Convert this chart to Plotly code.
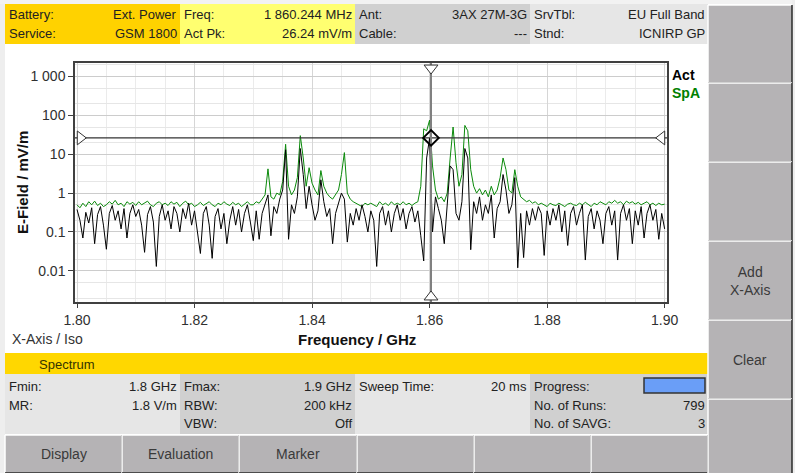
import numpy as np
import plotly.graph_objects as go

# Sweep settings
f_min, f_max = 1.80, 1.90          # GHz
marker_freq = 1.860244             # GHz
act_pk = 26.24                     # mV/m

# Act trace (mV/m), 201 points across the sweep
act = [
    0.38, 0.2, 0.07, 0.32, 0.17, 0.42, 0.05, 0.28, 0.45, 0.15,
    0.036, 0.3, 0.48, 0.2, 0.35, 0.12, 0.4, 0.07, 0.3, 0.5,
    0.25, 0.38, 0.15, 0.03, 0.28, 0.45, 0.18, 0.013, 0.25, 0.5,
    0.2, 0.35, 0.12, 0.45, 0.3, 0.1, 0.4, 0.22, 0.55, 0.15,
    0.35, 0.1, 0.028, 0.3, 0.45, 0.15, 0.021, 0.25, 0.4, 0.12,
    0.3, 0.05, 0.2, 0.45, 0.15, 0.38, 0.1, 0.3, 0.5, 0.18,
    0.06, 0.35, 0.065, 0.3, 0.55, 0.9, 0.08, 0.45, 0.3, 0.7,
    1.2, 13.0, 0.065, 0.5, 0.3, 0.8, 14.0, 3.0, 0.4, 1.5,
    0.5, 0.2, 0.35, 2.2, 0.6, 0.25, 0.4, 0.05, 0.3, 0.6,
    1.0, 0.7, 0.055, 0.3, 0.15, 0.4, 0.2, 0.5, 0.25, 0.1,
    0.35, 0.2, 0.013, 0.3, 0.45, 0.15, 0.35, 0.1, 0.3, 0.5,
    0.2, 0.4, 0.12, 0.3, 0.45, 0.18, 0.35, 0.08, 0.018, 8.0,
    26.0, 0.1, 0.8, 0.4, 0.2, 0.05, 0.6, 5.0, 4.0, 0.3,
    0.2, 0.6, 14.0, 8.0, 0.035, 0.6, 0.3, 0.8, 0.2, 0.5,
    0.3, 0.9, 0.07, 0.4, 0.6, 3.0, 1.2, 0.3, 0.5, 2.5,
    0.012, 0.3, 0.022, 0.35, 0.15, 0.4, 0.2, 0.45, 0.3, 0.025,
    0.35, 0.15, 0.4, 0.2, 0.5, 0.1, 0.35, 0.045, 0.3, 0.45,
    0.15, 0.3, 0.5, 0.019, 0.25, 0.4, 0.12, 0.35, 0.2, 0.05,
    0.3, 0.45, 0.15, 0.35, 0.019, 0.3, 0.5, 0.2, 0.4, 0.05,
    0.35, 0.15, 0.45, 0.07, 0.3, 0.5, 0.2, 0.38, 0.065, 0.3,
    0.12,
]

# SpA trace (mV/m)
spa = [
    0.5, 0.42, 0.55, 0.45, 0.6, 0.5, 0.62, 0.48, 0.55, 0.45,
    0.5, 0.6, 0.52, 0.65, 0.5, 0.55, 0.45, 0.6, 0.52, 0.58,
    0.48, 0.6, 0.5, 0.55, 0.62, 0.5, 0.45, 0.55, 0.6, 0.5,
    0.55, 0.48, 0.6, 0.52, 0.58, 0.45, 0.55, 0.62, 0.5, 0.55,
    0.45, 0.5, 0.58, 0.48, 0.55, 0.6, 0.5, 0.45, 0.55, 0.5,
    0.6, 0.52, 0.48, 0.58, 0.5, 0.55, 0.45, 0.52, 0.6, 0.5,
    0.5, 0.6, 0.55, 0.7, 0.9, 4.2, 0.8, 0.7, 1.0, 0.9,
    2.0, 18.0, 1.5, 0.9, 1.2, 2.5, 30.0, 8.0, 1.5, 4.5,
    1.8, 1.2, 0.9, 3.8, 1.5, 1.0, 0.8, 0.7, 0.9, 1.2,
    3.0, 11.0, 1.0, 0.7, 0.6, 0.55, 0.5, 0.45, 0.55, 0.5,
    0.55, 0.5, 0.45, 0.6, 0.5, 0.55, 0.48, 0.6, 0.5, 0.55,
    0.5, 0.6, 0.5, 0.55, 0.48, 0.55, 0.6, 1.5, 45.0, 40.0,
    75.0, 5.0, 1.2, 0.7, 0.8, 0.6, 1.0, 8.0, 50.0, 6.0,
    1.5, 3.0, 55.0, 40.0, 4.0, 1.5, 1.0, 1.3, 0.9, 1.2,
    0.8, 1.5, 0.9, 1.2, 2.5, 8.0, 4.0, 1.2, 1.0, 4.0,
    1.5, 0.8, 0.7, 0.6, 0.65, 0.55, 0.6, 0.5, 0.55, 0.5,
    0.45, 0.55, 0.5, 0.48, 0.55, 0.5, 0.45, 0.52, 0.55, 0.5,
    0.48, 0.55, 0.5, 0.58, 0.5, 0.45, 0.55, 0.5, 0.6, 0.55,
    0.5, 0.6, 0.55, 0.65, 0.55, 0.6, 0.5, 0.62, 0.55, 0.6,
    0.52, 0.58, 0.5, 0.55, 0.6, 0.5, 0.55, 0.48, 0.55, 0.5,
    0.52,
]

freq = np.linspace(f_min, f_max, len(act))

x_tickvals = [1.80, 1.82, 1.84, 1.86, 1.88, 1.90]
x_ticktext = ['1.80', '1.82', '1.84', '1.86', '1.88', '1.90']
y_tickvals = [0.01, 0.1, 1, 10, 100, 1000]
y_ticktext = ['0.01', '0.1', '1', '10', '100', '1 000']
y_minor = [0.002, 0.005, 0.02, 0.05, 0.2, 0.5, 2, 5, 20, 50, 200, 500, 2000]

# Info panels: (label, value) rows per box
top_boxes = [
    [('Battery:', 'Ext. Power'), ('Service:', 'GSM 1800')],
    [('Freq:', '1 860.244 MHz'), ('Act Pk:', '26.24 mV/m')],
    [('Ant:', '3AX 27M-3G'), ('Cable:', '---')],
    [('SrvTbl:', 'EU Full Band'), ('Stnd:', 'ICNIRP GP')],
]
bottom_boxes = [
    [('Fmin:', '1.8 GHz'), ('MR:', '1.8 V/m')],
    [('Fmax:', '1.9 GHz'), ('RBW:', '200 kHz'), ('VBW:', 'Off')],
    [('Sweep Time:', '20 ms')],
    [('Progress:', ''), ('No. of Runs:', '799'), ('No. of SAVG:', '3')],
]
bottom_buttons = ['Display', 'Evaluation', 'Marker', '', '', '']
side_buttons = ['', '', '', 'Add<br>X-Axis', 'Clear', '']

# Pixel layout of the screen
FIG_W, FIG_H = 795, 473
L, T, R, B = 75, 63, 667, 302
x_lo, x_hi = 1.79966, 1.9004
y_lo, y_hi = -2.8, 3.345
FONT = 'Liberation Sans'


def px(x):
    return (x - L) / (R - L)


def py(y):
    return (B - y) / (B - T)


shapes = []
annotations = []


def rect(x0, y0, x1, y1, fill, line_color=None, line_width=0):
    shapes.append(dict(type='rect', xref='paper', yref='paper',
                       x0=px(x0), x1=px(x1), y0=py(y1), y1=py(y0),
                       fillcolor=fill, layer='above',
                       line=dict(color=line_color or fill, width=line_width)))


def seg(x0, y0, x1, y1, color, width=1):
    shapes.append(dict(type='line', xref='paper', yref='paper',
                       x0=px(x0), x1=px(x1), y0=py(y0), y1=py(y1), layer='above',
                       line=dict(color=color, width=width)))


def txt(x, y, s, anchor='left', size=13, color='#222222', bold=False, angle=0):
    if bold:
        s = '<b>' + s + '</b>'
    annotations.append(dict(x=px(x), y=py(y), xref='paper', yref='paper',
                            text=s, showarrow=False, xanchor=anchor, yanchor='middle',
                            textangle=angle,
                            font=dict(family=FONT, size=size, color=color)))


def button(x0, y0, x1, y1, label):
    rect(x0, y0, x1, y1, '#b5b3b5')
    seg(x0, y0, x1, y0, '#ffffff', 1.5)
    seg(x0, y0, x0, y1, '#ffffff', 1.5)
    seg(x1, y0, x1, y1, '#2a2a2a', 1.5)
    seg(x0, y1, x1, y1, '#2a2a2a', 1.5)
    if label:
        txt((x0 + x1) / 2, (y0 + y1) / 2, label, anchor='center', size=14, color='#3a3a3a')


# light outer frame
rect(0, 0, 5, FIG_H, '#eeeeee')
rect(0, 0, FIG_W, 4, '#f2f2f2')
rect(792, 0, FIG_W, FIG_H, '#eeeeee')

# top info bar
box_x = [5, 180, 355, 530, 708]
top_fill = ['#ffd200', '#ffff70', '#d0d0d0', '#e6e6e6']
row_y_top = [15, 33]
for k, rows in enumerate(top_boxes):
    rect(box_x[k], 4, box_x[k + 1], 44, top_fill[k])
    for (lab, val), yy in zip(rows, row_y_top):
        txt(box_x[k] + 2, yy, lab)
        txt(box_x[k + 1] - 1, yy, val, anchor='right')

# spectrum title bar
rect(5, 353, 708, 374, '#ffd700')
txt(37, 364, 'Spectrum', color='#333300')

# bottom info panel
bot_fill = ['#e6e6e6', '#d0d0d0', '#e6e6e6', '#d0d0d0']
row_y_bot = [386, 405, 423]
for k, rows in enumerate(bottom_boxes):
    rect(box_x[k], 374, box_x[k + 1], 434, bot_fill[k])
    for (lab, val), yy in zip(rows, row_y_bot):
        txt(box_x[k] + 2, yy, lab)
        if val:
            txt(box_x[k + 1] - 1, yy, val, anchor='right')

# progress bar
rect(644, 378, 705, 393, '#6a9ef7', '#333333', 1.5)

# bottom soft keys
key_x = [5, 122, 239, 357, 474, 591, 708]
for k, lab in enumerate(bottom_buttons):
    button(key_x[k], 435, key_x[k + 1], 473, lab)

# side soft keys
key_y = [5, 83, 162, 241, 320, 399, 476]
for k, lab in enumerate(side_buttons):
    button(708, key_y[k], 792, key_y[k + 1], lab)

# axis captions and trace labels
txt(22, 183, 'E-Field / mV/m', anchor='center', size=15, color='#111111', bold=True, angle=-90)
txt(357, 339, 'Frequency / GHz', anchor='center', size=15, color='#111111', bold=True)
txt(10, 339, 'X-Axis / Iso', size=14, color='#333333')
txt(670, 75, 'Act', size=14, color='#000000', bold=True)
txt(670, 93, 'SpA', size=14, color='#008000', bold=True)

fig = go.Figure()

fig.add_trace(go.Scatter(x=freq, y=spa, mode='lines', name='SpA',
                         line=dict(color='#0a8a0a', width=1)))
fig.add_trace(go.Scatter(x=freq, y=act, mode='lines', name='Act',
                         line=dict(color='#000000', width=1)))

# marker cross-hair
fig.add_trace(go.Scatter(x=[x_lo, x_hi], y=[act_pk, act_pk], mode='lines',
                         line=dict(color='#333333', width=1.2)))
fig.add_trace(go.Scatter(x=[marker_freq, marker_freq], y=[10 ** y_lo, 10 ** y_hi], mode='lines',
                         line=dict(color='#808080', width=2)))
fig.add_trace(go.Scatter(x=[marker_freq], y=[act_pk], mode='markers',
                         marker=dict(symbol='diamond', size=12, color='rgba(255,255,255,0)',
                                     line=dict(color='#000000', width=2))))
edge_dx = 0.0009
edge_dy = 0.13
fig.add_trace(go.Scatter(
    x=[marker_freq, marker_freq, x_lo + edge_dx, x_hi - edge_dx],
    y=[10 ** (y_hi - edge_dy), 10 ** (y_lo + edge_dy), act_pk, act_pk],
    mode='markers', cliponaxis=False,
    marker=dict(symbol=['triangle-down', 'triangle-up', 'triangle-right', 'triangle-left'],
                size=12, color='#ffffff', line=dict(color='#333333', width=1))))

fig.update_layout(
    width=FIG_W, height=FIG_H,
    margin=dict(l=L, r=FIG_W - R, t=T, b=FIG_H - B, pad=0),
    paper_bgcolor='#ffffff', plot_bgcolor='#ffffff',
    showlegend=False,
    font=dict(family=FONT, size=14, color='#333333'),
    shapes=shapes, annotations=annotations,
)
fig.update_xaxes(
    range=[x_lo, x_hi], tickvals=x_tickvals, ticktext=x_ticktext,
    showgrid=True, gridcolor='#d6d6d6', gridwidth=1, zeroline=False,
    minor=dict(tick0=1.8, dtick=0.005, showgrid=True, gridcolor='#ebebeb', ticks=''),
    ticks='outside', ticklen=4, tickcolor='#404040',
    showline=True, linecolor='#404040', linewidth=1.5, mirror=True,
    tickfont=dict(size=14, color='#303030'),
)
fig.update_yaxes(
    type='log', range=[y_lo, y_hi], tickvals=y_tickvals, ticktext=y_ticktext,
    showgrid=True, gridcolor='#cccccc', gridwidth=1, zeroline=False,
    minor=dict(tickvals=y_minor, showgrid=True, gridcolor='#e6e6e6', ticks=''),
    ticks='outside', ticklen=5, tickcolor='#404040',
    showline=True, linecolor='#404040', linewidth=1.5, mirror=True,
    tickfont=dict(size=14, color='#303030'),
)

# the page body has a default margin; drop it so the screen fills the window
fig.write_html("out.html", config={'displayModeBar': False},
               post_script="document.body.style.margin='0';")
